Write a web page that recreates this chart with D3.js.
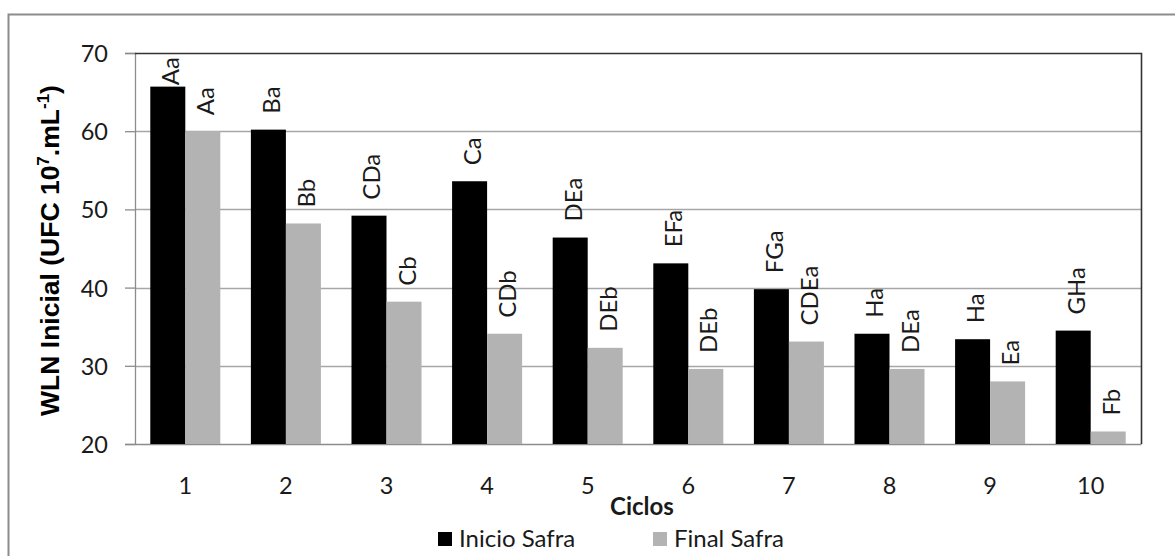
<!DOCTYPE html>
<html>
<head>
<meta charset="utf-8">
<script src="https://cdn.jsdelivr.net/npm/d3@7"></script>
<style>
  html, body { margin: 0; padding: 0; background: #fff; }
  svg { display: block; }
</style>
</head>
<body>
<svg id="chart" width="1175" height="556"></svg>
<script>
// ---- data ----
const categories = ["1","2","3","4","5","6","7","8","9","10"];
const seriesNames = ["Inicio Safra", "Final Safra"];
const inicioValues = [65.7, 60.2, 49.2, 53.6, 46.4, 43.1, 39.8, 34.1, 33.4, 34.5];
const finalValues  = [60.0, 48.2, 38.2, 34.1, 32.3, 29.6, 33.1, 29.6, 28.0, 21.6];
const inicioLabels = ["Aa","Ba","CDa","Ca","DEa","EFa","FGa","Ha","Ha","GHa"];
const finalLabels  = ["Aa","Bb","Cb","CDb","DEb","DEb","CDEa","DEa","Ea","Fb"];
const yTicks = [20, 30, 40, 50, 60, 70];
const colors = ["#000000", "#b3b3b3"];

// ---- layout ----
const svg = d3.select("#chart");
const plot = { left: 135, right: 1141, top: 53, bottom: 444 };
const FONT = "Lato, Carlito, Calibri, 'Liberation Sans', sans-serif";

// outer chart border (extends past right and bottom edges)
svg.append("rect")
  .attr("x", 8.5).attr("y", 14.5)
  .attr("width", 1200).attr("height", 600)
  .attr("fill", "none").attr("stroke", "#8c8c8c").attr("stroke-width", 2);

const x = d3.scaleBand().domain(categories)
  .range([plot.left, plot.right])
  .paddingInner(0.304).paddingOuter(0.152);
const xSub = d3.scaleBand().domain([0, 1]).range([0, x.bandwidth()]);
const y = d3.scaleLinear().domain([20, 70]).range([plot.bottom, plot.top]);

// gridlines
svg.append("g").selectAll("line")
  .data(yTicks.filter(t => t > 20 && t < 70))
  .join("line")
  .attr("x1", plot.left).attr("x2", plot.right)
  .attr("y1", d => Math.round(y(d)) + 0.5).attr("y2", d => Math.round(y(d)) + 0.5)
  .attr("stroke", "#a6a6a6").attr("stroke-width", 1.3);

// y axis
const yAxis = d3.axisLeft(y).tickValues(yTicks).tickSize(10).tickPadding(17)
  .tickFormat(d3.format("d"));
const gy = svg.append("g").attr("transform", `translate(${plot.left},0)`).call(yAxis);
gy.select(".domain").attr("stroke", "#8c8c8c").attr("stroke-width", 1.3);
gy.selectAll(".tick line").attr("stroke", "#8c8c8c").attr("stroke-width", 1.3);
gy.selectAll(".tick text").attr("font-family", FONT).attr("font-size", 23.5)
  .attr("fill", "#1a1a1a").attr("dy", "0.36em");

// x axis
const xAxis = d3.axisBottom(x).tickSize(0).tickPadding(33);
const gx = svg.append("g").attr("transform", `translate(0,${plot.bottom})`).call(xAxis);
gx.select(".domain").attr("stroke", "#8c8c8c").attr("stroke-width", 1.3);
gx.selectAll(".tick text").attr("font-family", FONT).attr("font-size", 23.5)
  .attr("fill", "#1a1a1a");

// top & right plot frame
svg.append("path")
  .attr("d", `M${plot.left},${plot.top + 0.5}H${plot.right + 0.5}V${plot.bottom}`)
  .attr("fill", "none").attr("stroke", "#333").attr("stroke-width", 1.6);

// bars
const seriesVals = [inicioValues, finalValues];
const seriesLabels = [inicioLabels, finalLabels];
seriesVals.forEach((vals, s) => {
  svg.append("g").selectAll("rect")
    .data(vals)
    .join("rect")
    .attr("x", (d, i) => x(categories[i]) + xSub(s))
    .attr("y", d => y(d))
    .attr("width", xSub.bandwidth())
    .attr("height", d => plot.bottom - y(d))
    .attr("fill", colors[s]);
});

// value letters (rotated)
seriesVals.forEach((vals, s) => {
  const g = svg.append("g");
  vals.forEach((v, i) => {
    const cx = x(categories[i]) + xSub(s) + xSub.bandwidth() / 2 + 2;
    const t = g.append("text")
      .attr("font-family", FONT).attr("font-size", 24).attr("fill", "#1a1a1a")
      .attr("dominant-baseline", "central")
      .text(seriesLabels[s][i]);
    const len = t.node().getComputedTextLength();
    let start = y(v) - 16;
    if (start - len < plot.top + 4) start = plot.top + 4 + len;
    t.attr("transform", `translate(${cx},${start}) rotate(-90)`);
  });
});

// axis titles
svg.append("text")
  .attr("x", (plot.left + plot.right) / 2 + 4).attr("y", 515)
  .attr("text-anchor", "middle")
  .attr("font-family", FONT).attr("font-size", 24).attr("font-weight", "bold")
  .attr("fill", "#1a1a1a")
  .text("Ciclos");

const yt = svg.append("text")
  .attr("transform", `translate(59,${(plot.top + plot.bottom) / 2 + 2}) rotate(-90)`)
  .attr("text-anchor", "middle")
  .attr("font-family", "'Liberation Sans', Arial, sans-serif")
  .attr("font-size", 26.5).attr("font-weight", "bold").attr("fill", "#000");
yt.append("tspan").text("WLN Inicial (UFC 10");
yt.append("tspan").attr("font-size", 17).attr("dy", -10).text("7");
yt.append("tspan").attr("dy", 10).text(".mL");
yt.append("tspan").attr("font-size", 17).attr("dy", -10).text("-1");
yt.append("tspan").attr("dy", 10).text(")");

// legend
const legendX = [438, 653];
const legend = svg.append("g");
seriesNames.forEach((name, s) => {
  legend.append("rect")
    .attr("x", legendX[s]).attr("y", 532)
    .attr("width", 14).attr("height", 14)
    .attr("fill", colors[s]);
  legend.append("text")
    .attr("x", legendX[s] + 21).attr("y", 547)
    .attr("font-family", FONT).attr("font-size", 24).attr("fill", "#1a1a1a")
    .text(name);
});
</script>
</body>
</html>
